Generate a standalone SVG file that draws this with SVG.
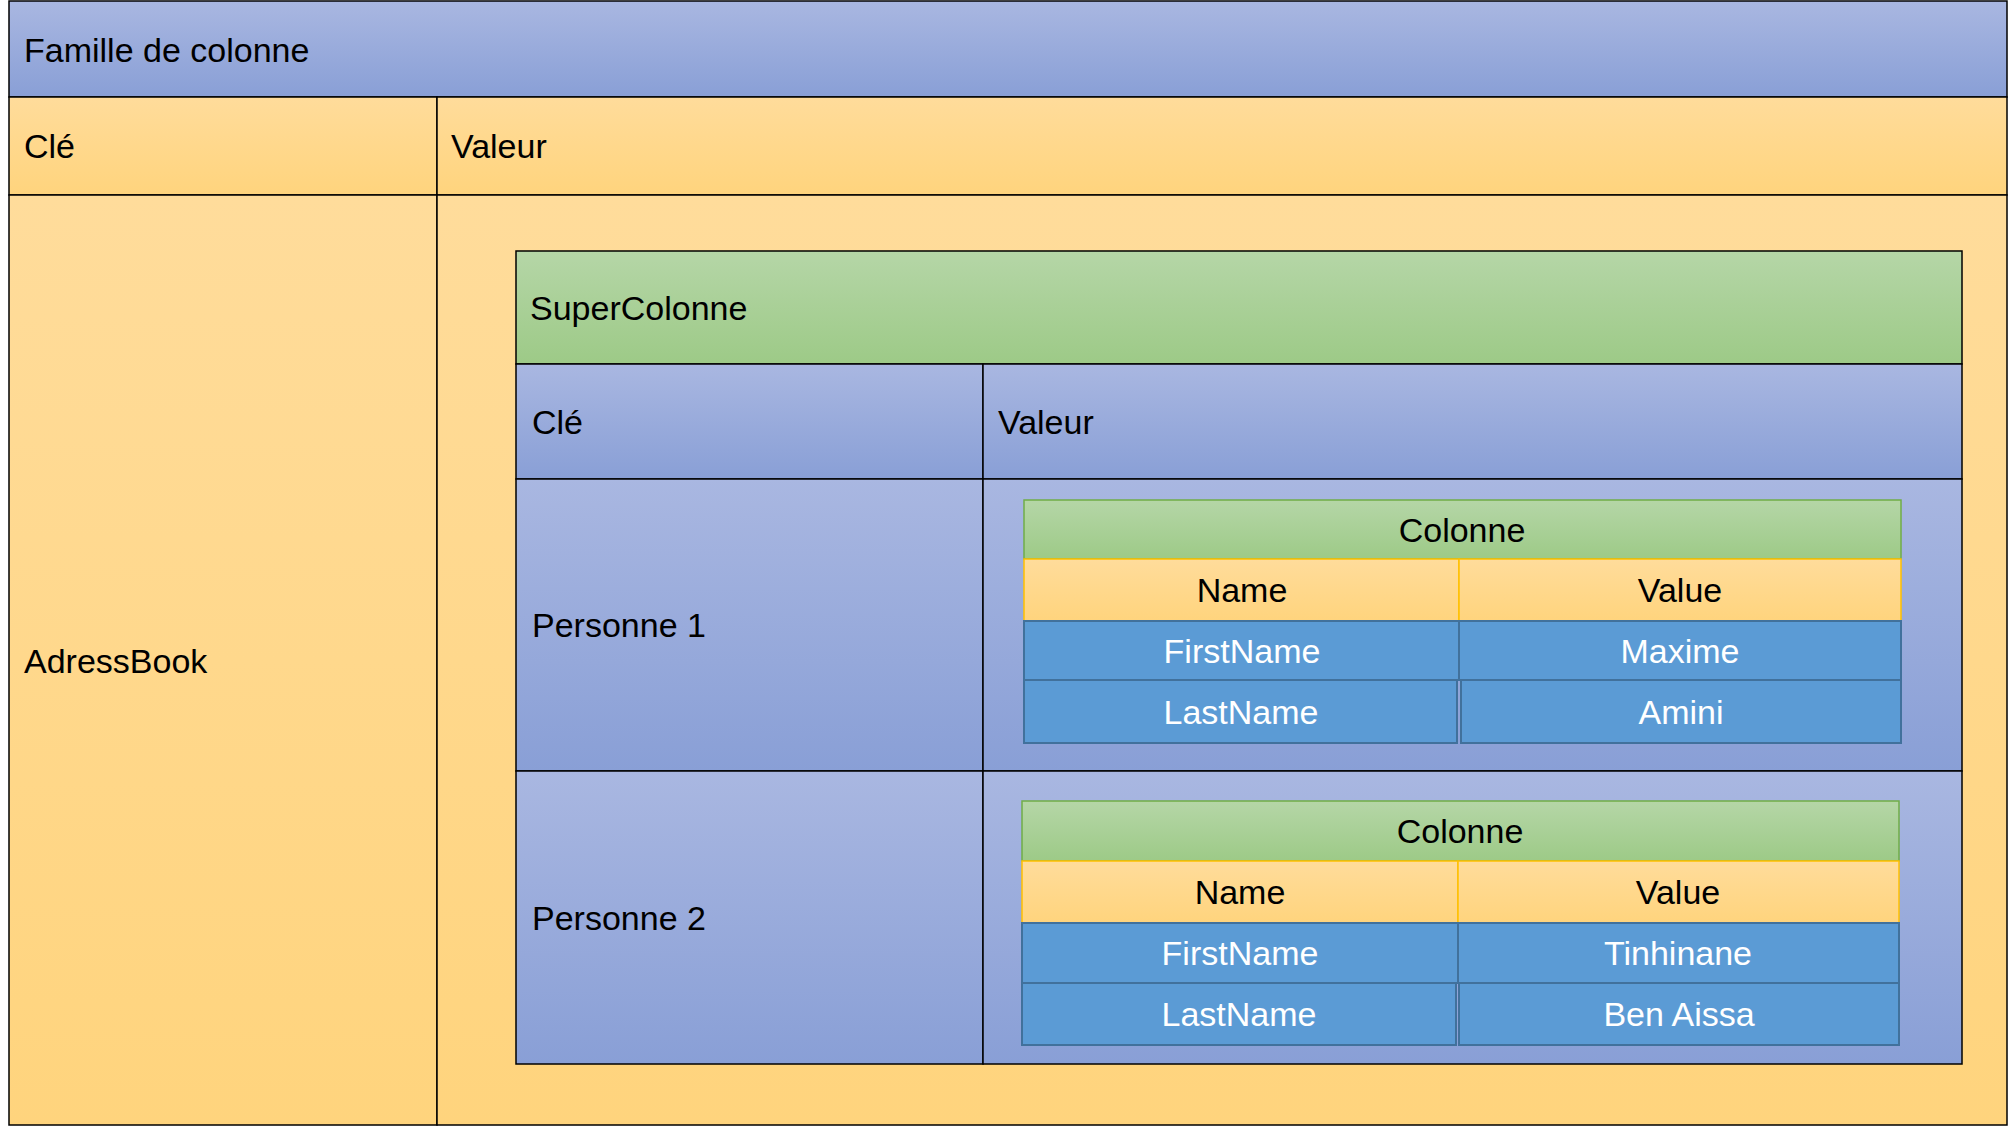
<svg xmlns="http://www.w3.org/2000/svg" width="2009" height="1126" viewBox="0 0 2009 1126">
<defs>
<linearGradient id="gBlue" x1="0" y1="0" x2="0" y2="1"><stop offset="0" stop-color="#A9B7E1"/><stop offset="1" stop-color="#899FD6"/></linearGradient>
<linearGradient id="gOr" x1="0" y1="0" x2="0" y2="1"><stop offset="0" stop-color="#FFDC9B"/><stop offset="1" stop-color="#FFD47D"/></linearGradient>
<linearGradient id="gGr" x1="0" y1="0" x2="0" y2="1"><stop offset="0" stop-color="#B5D6A7"/><stop offset="1" stop-color="#9DCA87"/></linearGradient>
</defs>
<style>
text{font-family:"Liberation Sans",Arial,sans-serif;font-size:34px;fill:#000}
.c{text-anchor:middle}
.w{fill:#fff}
.k{stroke:#000;stroke-width:1.5}
.blue{fill:url(#gBlue)}
.or{fill:url(#gOr)}
.gr{fill:url(#gGr);stroke:#70AD47;stroke-width:1.5}
.orr{fill:url(#gOr);stroke:#FFC000;stroke-width:1.5}
.cell{fill:#5B9BD5;stroke:#41719C;stroke-width:2}
</style>
<rect width="2009" height="1126" fill="#fff"/>
<g id="famille">
<rect class="blue k" x="9" y="1" width="1998" height="96"/>
<text x="24" y="62">Famille de colonne</text>
</g>
<g id="cle-header">
<rect class="or k" x="9" y="97" width="428" height="98"/>
<text x="24" y="158">Clé</text>
</g>
<g id="valeur-header">
<rect class="or k" x="437" y="97" width="1570" height="98"/>
<text x="451" y="158">Valeur</text>
</g>
<g id="adressbook">
<rect class="or k" x="9" y="195" width="428" height="930"/>
<text x="24" y="673">AdressBook</text>
</g>
<g id="valeur-cell">
<rect class="or k" x="437" y="195" width="1570" height="930"/>
</g>
<g id="supercolonne">
<rect class="k" fill="url(#gGr)" x="516" y="251" width="1446" height="113"/>
<text x="530" y="320">SuperColonne</text>
<rect class="blue k" x="516" y="364" width="467" height="115"/>
<text x="532" y="434">Clé</text>
<rect class="blue k" x="983" y="364" width="979" height="115"/>
<text x="998" y="434">Valeur</text>
</g>
<g id="personne1">
<rect class="blue k" x="516" y="479" width="467" height="292"/>
<text x="532" y="637">Personne 1</text>
<rect class="blue k" x="983" y="479" width="979" height="292"/>
</g>
<g id="personne2">
<rect class="blue k" x="516" y="771" width="467" height="293"/>
<text x="532" y="930">Personne 2</text>
<rect class="blue k" x="983" y="771" width="979" height="293"/>
</g>
<g id="colonne1">
<rect class="gr" x="1024" y="500" width="877" height="59"/>
<text class="c" x="1462" y="542">Colonne</text>
<rect class="orr" x="1024" y="559" width="435" height="62"/>
<rect class="orr" x="1459" y="559" width="442" height="62"/>
<text class="c" x="1242" y="602">Name</text>
<text class="c" x="1680" y="602">Value</text>
<rect class="cell" x="1024" y="621" width="435" height="59"/>
<rect class="cell" x="1459" y="621" width="442" height="59"/>
<rect class="cell" x="1024" y="680" width="433" height="63"/>
<rect class="cell" x="1461" y="680" width="440" height="63"/>
<text class="c w" x="1242" y="663">FirstName</text>
<text class="c w" x="1680" y="663">Maxime</text>
<text class="c w" x="1241" y="724">LastName</text>
<text class="c w" x="1681" y="724">Amini</text>
</g>
<g id="colonne2">
<rect class="gr" x="1022" y="801" width="877" height="60"/>
<text class="c" x="1460" y="843">Colonne</text>
<rect class="orr" x="1022" y="861" width="436" height="62"/>
<rect class="orr" x="1458" y="861" width="441" height="62"/>
<text class="c" x="1240" y="904">Name</text>
<text class="c" x="1678" y="904">Value</text>
<rect class="cell" x="1022" y="923" width="436" height="60"/>
<rect class="cell" x="1458" y="923" width="441" height="60"/>
<rect class="cell" x="1022" y="983" width="434" height="62"/>
<rect class="cell" x="1459" y="983" width="440" height="62"/>
<text class="c w" x="1240" y="965">FirstName</text>
<text class="c w" x="1678" y="965">Tinhinane</text>
<text class="c w" x="1239" y="1026">LastName</text>
<text class="c w" x="1679" y="1026">Ben Aissa</text>
</g>
<g id="connectors"></g>
</svg>
